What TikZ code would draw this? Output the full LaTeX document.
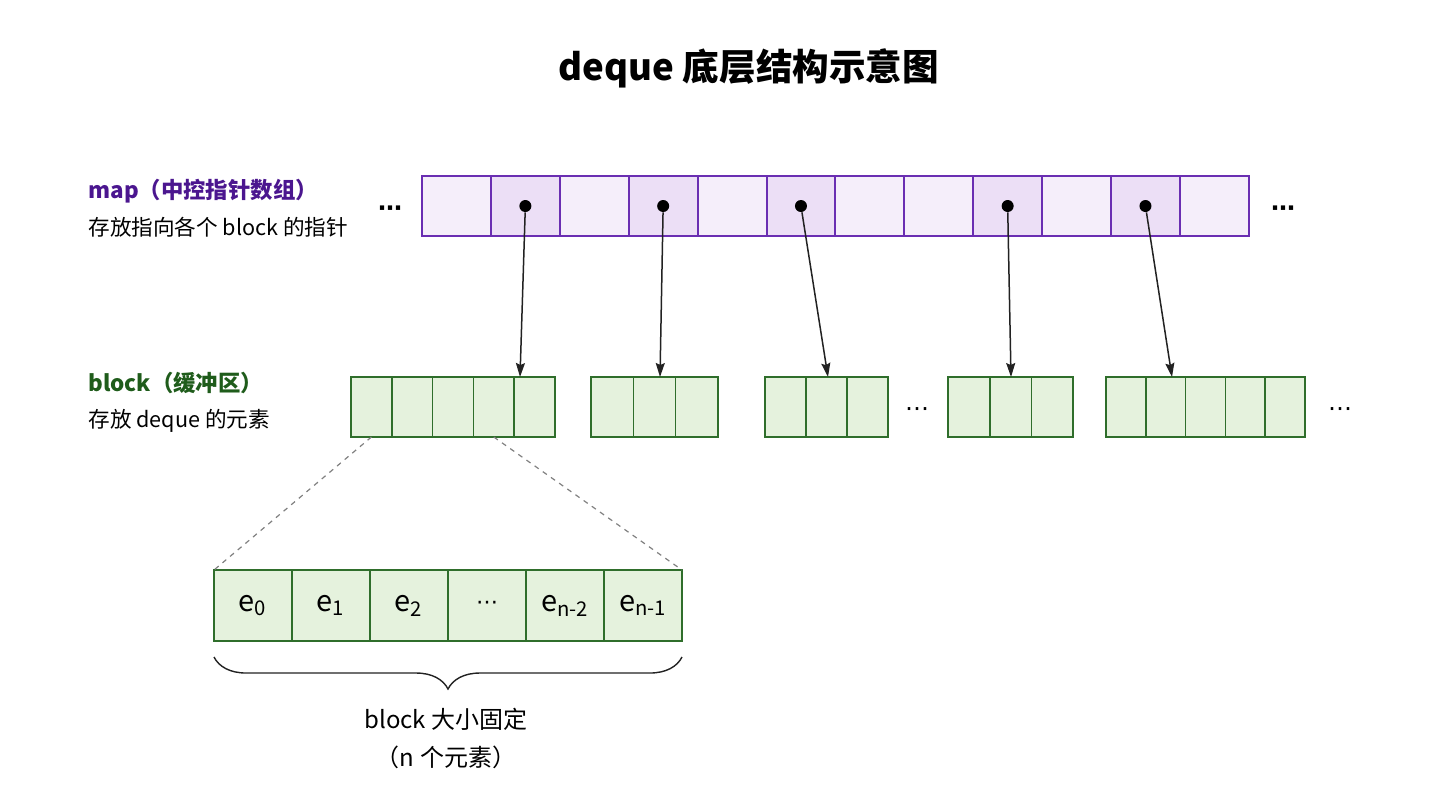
\documentclass[tikz,border=0pt]{standalone}
\usepackage{fontspec}
\setmainfont{Noto Sans CJK SC}
\newfontfamily\symfont{DejaVu Sans}
\usetikzlibrary{arrows.meta,decorations.pathreplacing,positioning}

\definecolor{mapline}{HTML}{6A2EB2}
\definecolor{mapfill}{HTML}{F5EEFA}
\definecolor{mapdark}{HTML}{ECDFF6}
\definecolor{maptext}{HTML}{4B168F}
\definecolor{blkline}{HTML}{2F6E2B}
\definecolor{blkfill}{HTML}{E5F2DD}
\definecolor{blktext}{HTML}{1F5C1B}
\definecolor{ink}{HTML}{222222}

\tikzset{
  mapcell/.style={draw=mapline, line width=1pt, fill=mapfill, anchor=north west,
    minimum width=34.45pt, minimum height=30pt, inner sep=0pt, outer sep=0pt},
  blkcell/.style={draw=blkline, line width=.8pt, fill=blkfill, anchor=north west,
    minimum height=30pt, inner sep=0pt, outer sep=0pt},
  elemcell/.style={blkcell, minimum width=39pt, minimum height=35.5pt,
    font=\fontsize{14.5}{16}\selectfont},
  ptr/.style={circle, fill=black, minimum size=6pt, inner sep=0pt},
  ptrarrow/.style={draw=ink, line width=.75pt, -{Stealth[length=7pt,width=4.5pt,inset=1pt]}},
  zoomline/.style={draw=gray, line width=.6pt, dash pattern=on 2.5pt off 2.5pt},
  lbl/.style={anchor=west, inner sep=0pt, font=\fontsize{10.8}{13}\selectfont},
  head/.style={anchor=west, inner sep=0pt, font=\fontsize{11.2}{13}\selectfont\bfseries},
  dots/.style={inner sep=0pt, font=\symfont\fontsize{12}{14}\selectfont}
}

\begin{document}
\begin{tikzpicture}[x=.5pt, y=-.5pt]

\useasboundingbox (0,0) rectangle (1449,805);

\node[font=\fontsize{18.3}{22}\selectfont\bfseries] (title) at (749,68) {deque 底层结构示意图};

% left labels
\node[head, text=maptext] (maphead) at (88,191) {map（中控指针数组）};
\node[lbl] (mapnote) at (88,227) {存放指向各个 block 的指针};
\node[head, text=blktext] (blkhead) at (88,383) {block（缓冲区）};
\node[lbl] (blknote) at (88,421) {存放 deque 的元素};

% map
\foreach \i/\c in {1/mapfill,2/mapdark,3/mapfill,4/mapdark,5/mapfill,6/mapdark,
                   7/mapfill,8/mapfill,9/mapdark,10/mapfill,11/mapdark,12/mapfill}{
  \node[mapcell, fill=\c] (m\i) at ({422+68.9*(\i-1)},176) {};
}
\node[dots, font=\symfont\bfseries\fontsize{12}{14}\selectfont] (mapl) at (390,211) {⋯};
\node[dots, font=\symfont\bfseries\fontsize{12}{14}\selectfont] (mapr) at (1283,211) {⋯};

% blocks
\foreach \b/\x/\n/\w in {1/351/5/40.8, 2/591/3/42.3, 3/765/3/41, 4/948/3/41.7, 5/1106/5/39.8}{
  \foreach \k in {1,...,\n}{
    \node[blkcell, minimum width={\w*.5pt}] (b\b-\k) at ({\x+\w*(\k-1)},377) {};
  }
}
\node[dots] (blkm) at (917,412) {⋯};
\node[dots] (blkr) at (1340,412) {⋯};

% pointers
\foreach \i in {2,4,6,9,11}{
  \node[ptr] (d\i) at (m\i) {};
}
\coordinate (t1) at (520,377);
\coordinate (t2) at (660,377);
\coordinate (t3) at (828,377);
\coordinate (t4) at (1011,377);
\coordinate (t5) at (1172,377);

\draw[ptrarrow] (d2) -- (t1);
\draw[ptrarrow] (d4) -- (t2);
\draw[ptrarrow] (d6) -- (t3);
\draw[ptrarrow] (d9) -- (t4);
\draw[ptrarrow] (d11) -- (t5);

% one block, enlarged
\foreach \i/\t in {1/e\textsubscript{0}, 2/e\textsubscript{1}, 3/e\textsubscript{2},
                   4/{\symfont\fontsize{11}{12}\selectfont ⋯}, 5/e\textsubscript{n-2}, 6/e\textsubscript{n-1}}{
  \node[elemcell] (e\i) at ({214+78*(\i-1)},570) {\t};
}

\draw[zoomline] (b1-1.south) -- (e1.north west);
\draw[zoomline] (b1-4.south) -- (e6.north east);

\coordinate (brl) at (214,657);
\coordinate (brr) at (682,657);
\draw[ink, line width=.7pt, decorate, decoration={brace, mirror, amplitude=16pt}] (brl) -- (brr);

\node[font=\fontsize{12}{14}\selectfont] (size) at (446,719) {block 大小固定};
\node[font=\fontsize{12}{14}\selectfont] (count) at (446,757) {（n 个元素）};

\end{tikzpicture}
\end{document}
